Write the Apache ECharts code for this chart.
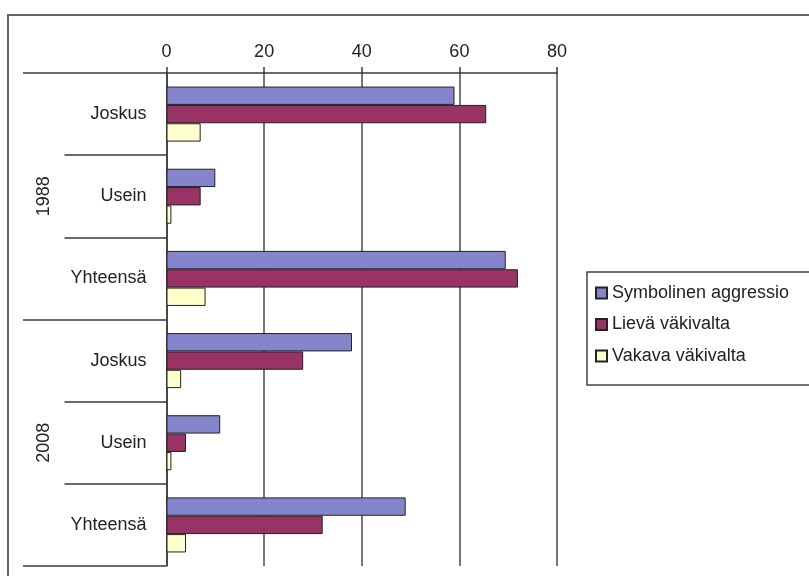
<!DOCTYPE html>
<html>
<head>
<meta charset="utf-8">
<script src="https://cdn.jsdelivr.net/npm/echarts@6/dist/echarts.min.js"></script>
<style>
html,body{margin:0;padding:0;background:#fff;}
#c{width:809px;height:576px;}
</style>
</head>
<body>
<div id="c"></div>
<script>
const categories = ['Joskus', 'Usein', 'Yhteensä', 'Joskus', 'Usein', 'Yhteensä'];
const years = ['1988', '2008'];
const seriesNames = ['Symbolinen aggressio', 'Lievä väkivalta', 'Vakava väkivalta'];
const symbolinen = [59, 10, 69.5, 38, 11, 49];
const lieva = [65.5, 7, 72, 28, 4, 32];
const vakava = [7, 1, 8, 3, 1, 4];
const xTicks = [0, 20, 40, 60, 80];

const colors = ['#8585cc', '#993366', '#ffffcc'];
const font = 'Liberation Sans, Arial, sans-serif';
const lineCol = '#3a3a3a';

const chart = echarts.init(document.getElementById('c'));
const values = [symbolinen, lieva, vakava];
chart.setOption({
  animation: false,
  textStyle: {fontFamily: font},
  graphic: [{
    type: 'rect', z: -10, silent: true,
    shape: {x: 8, y: 15, width: 830, height: 620},
    style: {fill: 'none', stroke: '#666', lineWidth: 2}
  }],
  grid: {left: 166.5, right: 252, top: 73, bottom: 10, containLabel: false},
  legend: {
    orient: 'vertical', left: 587, top: 272,
    icon: 'rect',
    itemWidth: 11, itemHeight: 11, itemGap: 13.5,
    padding: [12, 40, 20, 8],
    borderColor: '#444', borderWidth: 1.5,
    textStyle: {fontSize: 18, color: '#222', fontFamily: font},
    data: seriesNames
  },
  xAxis: {
    type: 'value', position: 'top', min: xTicks[0], max: xTicks[xTicks.length - 1], interval: 20,
    axisLine: {show: true, lineStyle: {color: lineCol, width: 1.5}},
    axisTick: {show: true, length: 6, lineStyle: {color: lineCol, width: 1.5}},
    axisLabel: {fontSize: 18, color: '#222', margin: 12, fontFamily: font},
    splitLine: {show: true, lineStyle: {color: '#4a4a4a', width: 1.5}}
  },
  yAxis: [{
    type: 'category', inverse: true, data: categories, position: 'left',
    axisLine: {show: true, lineStyle: {color: lineCol, width: 1.5}},
    axisTick: {show: true, length: 102, lineStyle: {color: lineCol, width: 1.5}},
    axisLabel: {fontSize: 18, color: '#222', margin: 20, fontFamily: font}
  }, {
    type: 'category', inverse: true, data: years, position: 'left',
    axisLine: {show: false},
    axisTick: {show: true, length: 143.5, lineStyle: {color: lineCol, width: 1.5}},
    axisLabel: {fontSize: 18, color: '#222', rotate: 90, margin: 113, fontFamily: font}
  }],
  series: seriesNames.map((n, i) => ({
    name: n, type: 'bar', yAxisIndex: 0, data: values[i],
    barGap: 0, barCategoryGap: '33%',
    itemStyle: {color: colors[i], borderColor: '#222', borderWidth: 1}
  }))
});
</script>
</body>
</html>
